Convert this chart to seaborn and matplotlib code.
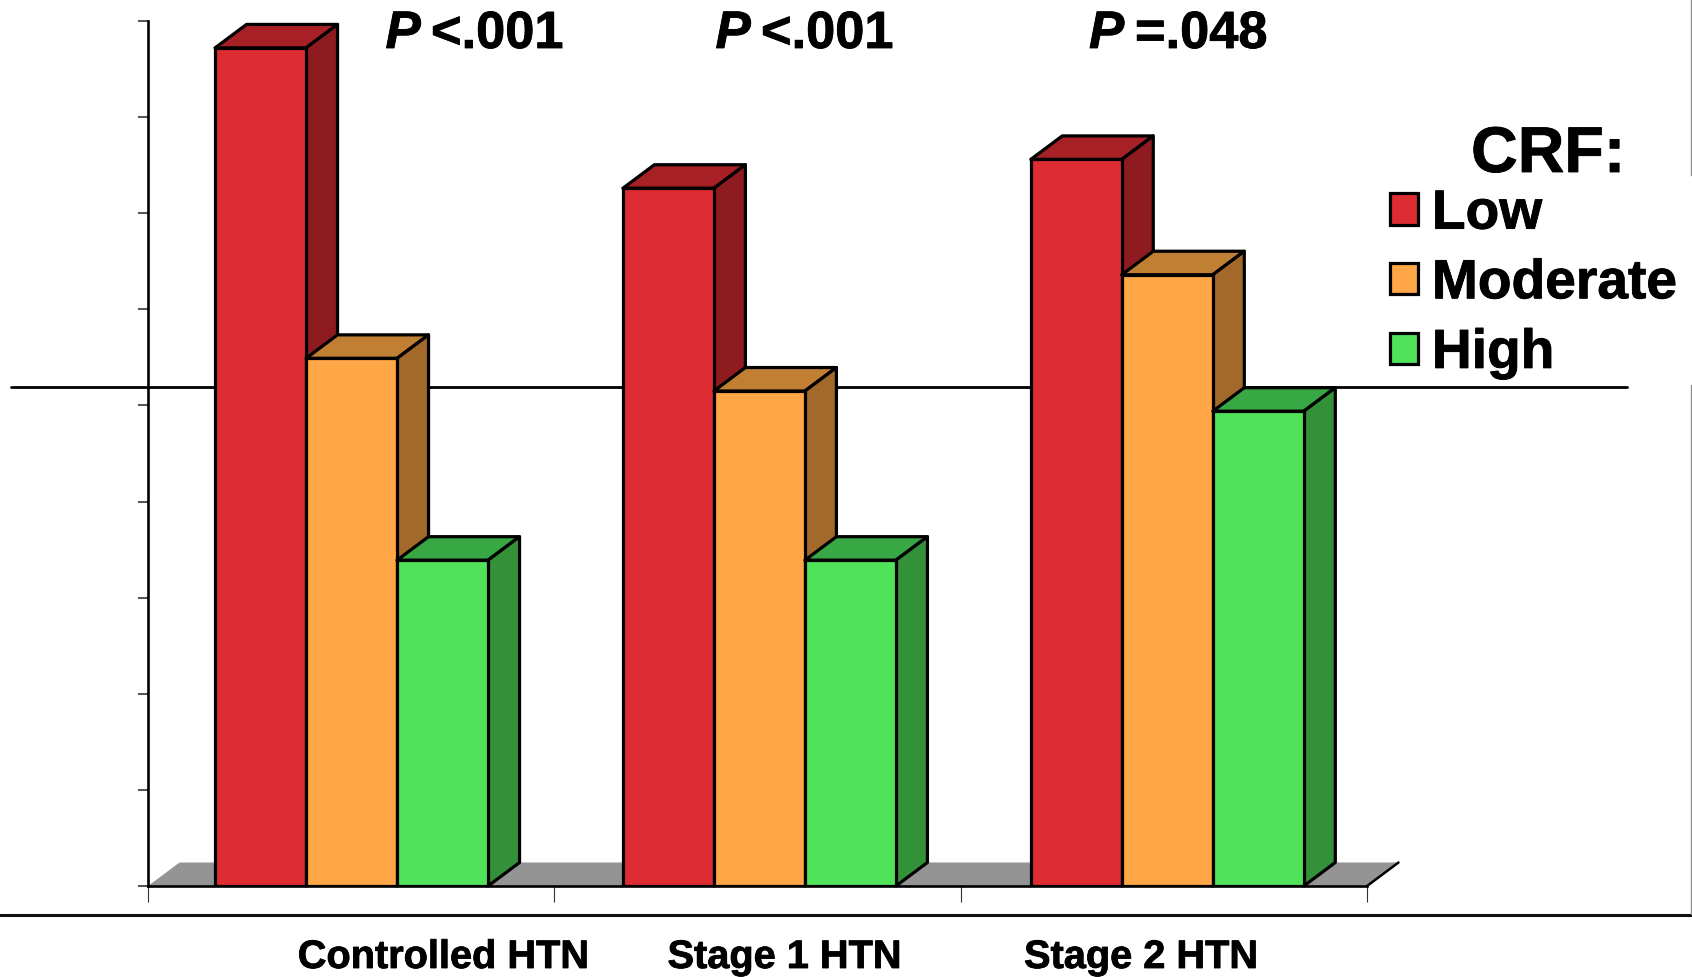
import matplotlib
matplotlib.use("Agg")
import matplotlib.pyplot as plt
import matplotlib.patheffects as pe
from matplotlib.lines import Line2D
from matplotlib.patches import Patch, Polygon
from matplotlib.transforms import Affine2D, blended_transform_factory
import numpy as np
import pandas as pd
import seaborn as sns

# Fitness groups and hypertension stages
stages = ["Controlled HTN", "Stage 1 HTN", "Stage 2 HTN"]
crf_levels = ["Low", "Moderate", "High"]
low_values = [8.72, 7.26, 7.56]
moderate_values = [5.49, 5.15, 6.36]
high_values = [3.39, 3.39, 4.94]
p_prefix = ["P", "P", "P"]
p_values = ["<.001", "<.001", "=.048"]

front_colors = ["#DE2C33", "#FFA646", "#50E35A"]
top_colors = ["#A62026", "#C07F33", "#37A843"]
side_colors = ["#8E1B20", "#A2692B", "#33913A"]
floor_color = "#949494"

W, H = 1692, 977
EDGE = 2.3
sns.set_theme(style="white")
plt.rcParams["font.family"] = ["Liberation Sans", "DejaVu Sans"]

fig = plt.figure(figsize=(W / 100, H / 100), dpi=100, facecolor="white")
ax = fig.add_axes([148 / W, 1 - 886 / H, (1367 - 148) / W, (886 - 21) / H])

df = pd.DataFrame({
    "stage": stages * 3,
    "crf": [c for c in crf_levels for _ in stages],
    "value": low_values + moderate_values + high_values,
})
sns.barplot(data=df, x="stage", y="value", hue="crf", order=stages, hue_order=crf_levels,
            palette=front_colors, saturation=1, width=0.6694, gap=0, errorbar=None,
            edgecolor="black", linewidth=EDGE, legend=False, ax=ax)
xlim = (-0.499, 2.4896)
ax.set_xlim(*xlim)
ax.set_ylim(0, 9)

# Depth of the extruded bars, in data units
dx = 31.5 / 407.9
dy = 23.5 / 96.1

# Pixel coordinates measured from the top-left of the figure
px = Affine2D().scale(1 / W, -1 / H).translate(0, 1) + fig.transFigure

bars = [p for p in ax.patches if p.get_height() > 0]
hue_index = {matplotlib.colors.to_hex(c).lower(): i for i, c in enumerate(front_colors)}

for order, bar in enumerate(sorted(bars, key=lambda b: b.get_x())):
    x0, w, h = bar.get_x(), bar.get_width(), bar.get_height()
    k = hue_index[matplotlib.colors.to_hex(bar.get_facecolor()).lower()]
    z = 3 + order * 0.01
    bar.set_zorder(z + 0.005)
    bar.set_joinstyle("miter")
    ax.add_patch(Polygon([(x0, h), (x0 + w, h), (x0 + w + dx, h + dy), (x0 + dx, h + dy)],
                         closed=True, facecolor=top_colors[k], edgecolor="black",
                         linewidth=EDGE, zorder=z, clip_on=False, joinstyle="round"))
    ax.add_patch(Polygon([(x0 + w, 0), (x0 + w + dx, dy), (x0 + w + dx, h + dy), (x0 + w, h)],
                         closed=True, facecolor=side_colors[k], edgecolor="black",
                         linewidth=EDGE, zorder=z, clip_on=False, joinstyle="round"))

# Grey floor beneath the bars
ax.add_patch(Polygon([(xlim[0], 0), (xlim[1], 0), (xlim[1] + dx, dy), (xlim[0] + dx, dy)],
                     closed=True, facecolor=floor_color, edgecolor="none", zorder=2,
                     clip_on=False))
ax.plot([xlim[1], xlim[1] + dx], [0, dy], color="black", lw=1.8, zorder=2.5, clip_on=False)

# Reference line across the whole panel
ref_tf = blended_transform_factory(px, ax.transData)
ax.add_line(Line2D([11, 1627], [5.19, 5.19], transform=ref_tf, color="black", lw=2.0,
                   zorder=1, clip_on=False))
# Rule under the plot and the broken frame line at the right edge
fig.add_artist(Line2D([0, W], [915, 915], transform=px, color="#111111", lw=2.2))
for y0, y1 in [(0, 175), (385, 914)]:
    fig.add_artist(Line2D([W - 0.8, W - 0.8], [y0, y1], transform=px, color="#8C8C8C", lw=1.0))

sns.despine(ax=ax, top=True, right=True)
for side in ("left", "bottom"):
    ax.spines[side].set_color("black")
    ax.spines[side].set_linewidth(1.9)
    ax.spines[side].set_zorder(2.6)
ax.set_yticks(range(0, 10))
ax.set_yticklabels([])
ax.set_xticks(np.linspace(xlim[0], xlim[1], 4))
ax.set_xticklabels([])
ax.tick_params(axis="y", left=True, length=7.5, width=1.2, color="#333333")
ax.tick_params(axis="x", bottom=True, length=11.5, width=0.8, color="#333333")
ax.set_xlabel("")
ax.set_ylabel("")

# Heavier strokes for all the bold lettering
heavy = [pe.withStroke(linewidth=0.6, foreground="black")]

# Stage names sit to the right of their group centres
for name, x in zip(stages, [443.5, 784.5, 1141]):
    fig.text(x, 968, name, transform=px, ha="center", va="baseline", fontsize=28.6,
             fontweight="bold", color="black", path_effects=heavy)

# Trend P values above each group
for prefix, val, xp, xv in zip(p_prefix, p_values, [385.5, 715.5, 1089], [431, 761, 1135]):
    fig.text(xp, 48, prefix, transform=px, ha="left", va="baseline", fontsize=38,
             fontweight="bold", fontstyle="italic", color="black", path_effects=heavy)
    fig.text(xv, 48, val, transform=px, ha="left", va="baseline", fontsize=37.7,
             fontweight="bold", color="black", path_effects=heavy)

handles = [Patch(facecolor=c, edgecolor="black", linewidth=EDGE, label=l)
           for c, l in zip(front_colors, crf_levels)]
leg = ax.legend(handles=handles, title="CRF:", frameon=False, loc="upper left",
                bbox_to_anchor=(1390 / W, 1 - 111 / H), bbox_transform=fig.transFigure,
                prop={"size": 39.7, "weight": "bold"},
                title_fontproperties={"size": 46.5, "weight": "bold"},
                handlelength=0.5, handleheight=0.5, handletextpad=0.26,
                labelspacing=0.32, borderpad=0, borderaxespad=0, alignment="center")
leg.get_title().set_color("black")
leg.get_title().set_position((15, -14))
leg.get_title().set_path_effects(heavy)
for t in leg.get_texts():
    t.set_color("black")
    t.set_path_effects(heavy)
leg.set_zorder(10)

fig.savefig("out.png", dpi=100, facecolor="white")
